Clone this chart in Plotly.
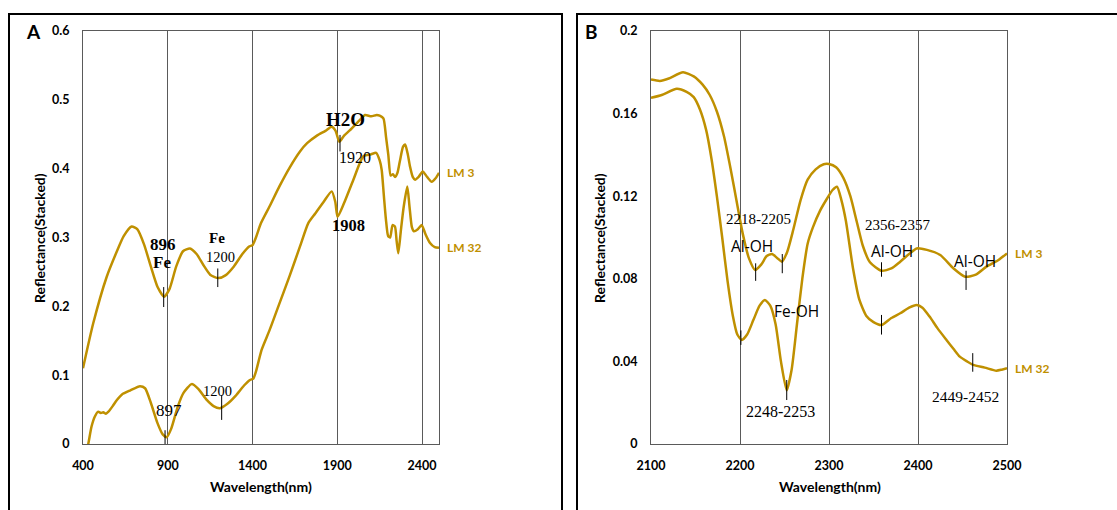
import plotly.graph_objects as go

W, H = 1117, 510
GOLD = "#BF9000"
GRID = "#5a5a5a"

# ---------------- Panel A data (400-2500 nm) ----------------
a_lm3_x = [400, 460, 540, 600, 640, 687, 720, 760, 800, 840, 878, 910, 950, 990, 1031, 1070, 1110,
           1150, 1198, 1240, 1290, 1340, 1380, 1400, 1420, 1450, 1500, 1560, 1620, 1680, 1722, 1780,
           1830, 1867, 1890, 1912, 1940, 1975, 2034, 2064, 2100, 2133, 2150, 2172, 2188, 2201, 2215,
           2228, 2241, 2255, 2270, 2288, 2300, 2315, 2329, 2345, 2359, 2380, 2404, 2430, 2457, 2480, 2500]
a_lm3_y = [0.110, 0.175, 0.243, 0.280, 0.302, 0.316, 0.312, 0.290, 0.258, 0.228, 0.214, 0.225, 0.258,
           0.280, 0.284, 0.276, 0.260, 0.246, 0.241, 0.245, 0.258, 0.276, 0.287, 0.289, 0.300, 0.321,
           0.345, 0.375, 0.402, 0.425, 0.437, 0.448, 0.455, 0.461, 0.455, 0.439, 0.448, 0.456, 0.471,
           0.478, 0.476, 0.478, 0.477, 0.473, 0.445, 0.420, 0.390, 0.392, 0.388, 0.394, 0.412, 0.432,
           0.435, 0.422, 0.403, 0.388, 0.384, 0.388, 0.396, 0.388, 0.381, 0.386, 0.394]

a_lm32_x = [415, 431, 450, 470, 490, 505, 520, 535, 550, 575, 600, 630, 680, 736, 766, 800, 840, 870,
            894, 920, 960, 992, 1041, 1080, 1130, 1170, 1208, 1250, 1300, 1350, 1385, 1405, 1420, 1454,
            1500, 1560, 1620, 1680, 1729, 1770, 1820, 1867, 1888, 1902, 1940, 1995, 2054, 2100, 2129,
            2150, 2162, 2175, 2187, 2200, 2212, 2226, 2240, 2250, 2260, 2275, 2292, 2313, 2326, 2340,
            2352, 2375, 2398, 2420, 2447, 2475, 2500]
a_lm32_y = [-0.015, 0.000, 0.025, 0.040, 0.047, 0.045, 0.046, 0.044, 0.047, 0.055, 0.064, 0.072, 0.078,
            0.084, 0.081, 0.060, 0.030, 0.014, 0.010, 0.022, 0.055, 0.074, 0.087, 0.080, 0.064, 0.055,
            0.052, 0.058, 0.070, 0.085, 0.093, 0.095, 0.105, 0.137, 0.165, 0.205, 0.245, 0.287, 0.321,
            0.335, 0.352, 0.367, 0.352, 0.330, 0.350, 0.384, 0.418, 0.421, 0.423, 0.412, 0.398, 0.360,
            0.326, 0.302, 0.300, 0.318, 0.316, 0.295, 0.277, 0.310, 0.345, 0.374, 0.345, 0.315, 0.309,
            0.312, 0.318, 0.305, 0.292, 0.286, 0.285]

# ---------------- Panel B data (2100-2500 nm) ----------------
b_lm3_x = [2100, 2110, 2120, 2136, 2148, 2158, 2166, 2174, 2182, 2190, 2196, 2203, 2210, 2217, 2224,
           2230, 2236, 2242, 2247, 2253, 2260, 2268, 2276, 2285, 2294, 2300, 2308, 2316, 2324, 2331,
           2338, 2346, 2359, 2370, 2380, 2390, 2398.5, 2410, 2425, 2440, 2453, 2465, 2477, 2490, 2500]
b_lm3_y = [0.1765, 0.1758, 0.1770, 0.1800, 0.1780, 0.1740, 0.1690, 0.1610, 0.1490, 0.1320, 0.1180,
           0.1020, 0.0900, 0.0843, 0.0870, 0.0910, 0.0920, 0.0900, 0.0883, 0.0930, 0.1040, 0.1180,
           0.1280, 0.1330, 0.1355, 0.1356, 0.1340, 0.1290, 0.1200, 0.1080, 0.0960, 0.0880, 0.0839,
           0.0850, 0.0883, 0.0920, 0.0947, 0.0940, 0.0915, 0.0850, 0.0810, 0.0820, 0.0859, 0.0890, 0.0923]

b_lm32_x = [2100, 2112, 2129, 2140, 2148, 2155, 2162, 2168, 2174, 2180, 2186, 2192, 2197, 2202, 2208,
            2215, 2222, 2228, 2234, 2240, 2246, 2252.5, 2258, 2264, 2270, 2276, 2282, 2290, 2298, 2304,
            2309, 2314, 2319, 2327, 2334, 2342, 2350, 2359, 2370, 2380, 2390, 2398.5, 2405, 2413, 2422,
            2432, 2440, 2447, 2455, 2462, 2475, 2488, 2494, 2500]
b_lm32_y = [0.1676, 0.1690, 0.1720, 0.1705, 0.1680, 0.1620, 0.1520, 0.1380, 0.1200, 0.1000, 0.0790,
            0.0620, 0.0530, 0.0504, 0.0530, 0.0600, 0.0670, 0.0697, 0.0670, 0.0580, 0.0400, 0.0260,
            0.0360, 0.0580, 0.0800, 0.0970, 0.1050, 0.1130, 0.1190, 0.1230, 0.1246, 0.1180, 0.1080,
            0.0850, 0.0700, 0.0620, 0.0590, 0.0576, 0.0610, 0.0633, 0.0660, 0.0673, 0.0660, 0.0617,
            0.0560, 0.0504, 0.0460, 0.0423, 0.0400, 0.0383, 0.0370, 0.0355, 0.0360, 0.0367]

series_names = ["LM 3", "LM 32"]

# feature tick marks: (x, y_low, y_high)
a_marks = [(876, 0.199, 0.228), (1195, 0.228, 0.255), (1916, 0.425, 0.449),
           (1218, 0.035, 0.071), (884, -0.01, 0.020)]
b_marks = [(2217.6, 0.079, 0.0875), (2247.5, 0.0827, 0.092), (2201, 0.048, 0.055),
           (2252.5, 0.0213, 0.031), (2359, 0.081, 0.088), (2359, 0.053, 0.0625),
           (2454, 0.0746, 0.0839), (2461.5, 0.035, 0.044)]

# feature labels: (text, x, y, size, font, bold)
SERIF = "Liberation Serif"
SANS = "Open Sans"
a_labels = [("896", 870, 0.290, 17, SERIF, True), ("Fe", 866, 0.263, 17, SERIF, True),
            ("Fe", 1189, 0.300, 15, SERIF, True), ("1200", 1214, 0.271, 14.5, SERIF, False),
            ("1200", 1195, 0.0775, 14.5, SERIF, False), ("897", 909, 0.0484, 17, SERIF, False),
            ("1908", 1969, 0.317, 16.5, SERIF, True), ("H2O", 1946, 0.471, 19, SERIF, True),
            ("1920", 2005, 0.416, 16, SERIF, False)]
b_labels = [("2218-2205", 2221, 0.1088, 15, SERIF, False), ("2356-2357", 2377, 0.106, 15, SERIF, False),
            ("Al-OH", 2214, 0.0959, 15.5, SANS, False), ("Fe-OH", 2263, 0.0646, 15.5, SANS, False),
            ("2248-2253", 2246, 0.0157, 16, SERIF, False), ("Al-OH", 2371, 0.0936, 15.5, SANS, False),
            ("Al-OH", 2464, 0.0888, 15.5, SANS, False), ("2449-2452", 2453, 0.0232, 15.5, SERIF, False)]


def px(x):
    return x / W


def py(y):
    return 1 - y / H


fig = go.Figure()
line = dict(color=GOLD, width=2.5, shape="spline", smoothing=0.6)
for xs, ys, xa, ya in [(a_lm3_x, a_lm3_y, "x", "y"), (a_lm32_x, a_lm32_y, "x", "y"),
                       (b_lm3_x, b_lm3_y, "x2", "y2"), (b_lm32_x, b_lm32_y, "x2", "y2")]:
    fig.add_trace(go.Scatter(x=xs, y=ys, mode="lines", line=line, xaxis=xa, yaxis=ya,
                             showlegend=False, hoverinfo="skip"))

TICKFONT = dict(family="Lato", size=12.5, color="#000000", weight="bold")
common_x = dict(showline=True, mirror=True, linecolor=GRID, linewidth=1.2, ticks="",
                showgrid=True, gridcolor=GRID, gridwidth=1.2, zeroline=False, automargin=False,
                tickfont=TICKFONT, ticklabelstandoff=10)
common_y = dict(showline=True, mirror=True, linecolor=GRID, linewidth=1.2, ticks="",
                showgrid=False, zeroline=False, automargin=False, tickfont=TICKFONT,
                ticklabelstandoff=10)

ydom = [py(444), py(31)]
fig.update_layout(
    width=W, height=H, margin=dict(l=0, r=0, t=0, b=0, autoexpand=False),
    paper_bgcolor="white", plot_bgcolor="white",
    xaxis=dict(domain=[px(83), px(439)], range=[400, 2500], tickvals=[400, 900, 1400, 1900, 2400],
               anchor="y", **common_x),
    yaxis=dict(domain=ydom, range=[0, 0.6], tickvals=[0, 0.1, 0.2, 0.3, 0.4, 0.5, 0.6],
               ticktext=["0", "0.1", "0.2", "0.3", "0.4", "0.5", "0.6"], anchor="x", **common_y),
    xaxis2=dict(domain=[px(651), px(1007)], range=[2100, 2500],
                tickvals=[2100, 2200, 2300, 2400, 2500], anchor="y2", **common_x),
    yaxis2=dict(domain=ydom, range=[0, 0.2], tickvals=[0, 0.04, 0.08, 0.12, 0.16, 0.2],
                ticktext=["0", "0.04", "0.08", "0.12", "0.16", "0.2"], anchor="x2", **common_y),
)

shapes = [
    dict(type="rect", xref="paper", yref="paper", x0=px(9), x1=px(562), y0=py(520), y1=py(14),
         line=dict(color="black", width=2)),
    dict(type="rect", xref="paper", yref="paper", x0=px(577), x1=px(1130), y0=py(520), y1=py(14),
         line=dict(color="black", width=2)),
]
for (x, y0, y1) in a_marks:
    shapes.append(dict(type="line", xref="x", yref="y", x0=x, x1=x, y0=y0, y1=y1,
                       line=dict(color="black", width=1)))
for (x, y0, y1) in b_marks:
    shapes.append(dict(type="line", xref="x2", yref="y2", x0=x, x1=x, y0=y0, y1=y1,
                       line=dict(color="black", width=1)))
fig.update_layout(shapes=shapes)

ann = []
for labels, xr, yr in ((a_labels, "x", "y"), (b_labels, "x2", "y2")):
    for (t, x, y, s, f, b) in labels:
        ann.append(dict(text=t, x=x, y=y, xref=xr, yref=yr, showarrow=False,
                        font=dict(family=f, size=s, color="black", weight="bold" if b else "normal"),
                        xanchor="center", yanchor="middle"))

# series end labels
for name, xs, ys, xr, yr in [(series_names[0], a_lm3_x, a_lm3_y, "x", "y"),
                             (series_names[1], a_lm32_x, a_lm32_y, "x", "y"),
                             (series_names[0], b_lm3_x, b_lm3_y, "x2", "y2"),
                             (series_names[1], b_lm32_x, b_lm32_y, "x2", "y2")]:
    ann.append(dict(text=name, x=xs[-1], y=ys[-1], xref=xr, yref=yr, showarrow=False,
                    xanchor="left", yanchor="middle", xshift=6,
                    font=dict(family="Lato", size=12, color=GOLD, weight="bold")))

TITLEFONT = dict(family="Lato", size=14, color="black", weight="bold")
for cx in (39, 599):
    ann.append(dict(text="Reflectance(Stacked)", x=px(cx), y=py(238), xref="paper", yref="paper",
                    showarrow=False, textangle=-90, font=TITLEFONT, xanchor="center", yanchor="middle"))
for cx in (261, 830):
    ann.append(dict(text="Wavelength(nm)", x=px(cx), y=py(486), xref="paper", yref="paper",
                    showarrow=False, font=TITLEFONT, xanchor="center", yanchor="middle"))
for t, cx in (("A", 33), ("B", 591)):
    ann.append(dict(text=t, x=px(cx), y=py(31), xref="paper", yref="paper", showarrow=False,
                    font=dict(family="Lato", size=19, color="black", weight="bold"),
                    xanchor="center", yanchor="middle"))
fig.update_layout(annotations=ann)

fig.write_html("out.html")
